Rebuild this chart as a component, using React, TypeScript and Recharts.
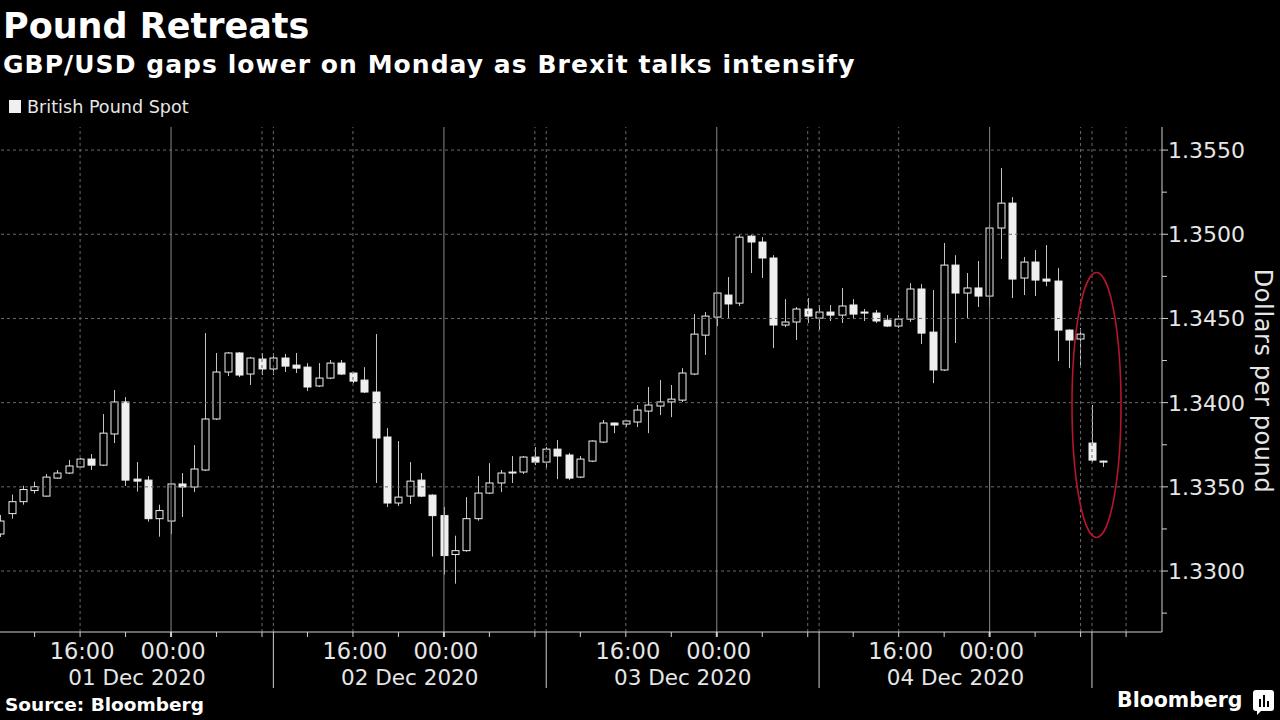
import { ComposedChart, Bar, XAxis, YAxis, ReferenceLine, ReferenceDot } from 'recharts';

if (typeof document !== 'undefined') {
  document.body.style.margin = '0';
  document.body.style.background = '#000';
}

// hourly candles, index 0 = first bar of 01 Dec session
const OPEN = [
  1.3322, 1.33341, 1.33412, 1.33478, 1.33445, 1.33552, 1.33582, 1.33618, 1.33665, 1.33629,
  1.33814, 1.34004, 1.33546, 1.3354, 1.33311, 1.33297, 1.33517, 1.33499, 1.336, 1.33903,
  1.34182, 1.34295, 1.3417, 1.34259, 1.342, 1.34265, 1.34223, 1.34211, 1.34099, 1.34146,
  1.34235, 1.34176, 1.34134, 1.34063, 1.33796, 1.33404, 1.33445, 1.3354, 1.33451, 1.33329,
  1.33098, 1.33121, 1.33311, 1.33463, 1.33523, 1.33582, 1.33588, 1.33677, 1.33647, 1.33724,
  1.33689, 1.33558, 1.33653, 1.33766, 1.33879, 1.33873, 1.33885, 1.3395, 1.3398, 1.34004,
  1.34015, 1.3417, 1.34401, 1.34508, 1.34639, 1.34591, 1.34989, 1.34954, 1.34859, 1.34461,
  1.34479, 1.34556, 1.34502, 1.34538, 1.3452, 1.3458, 1.34538, 1.34532, 1.3449, 1.34455,
  1.34496, 1.34675, 1.34419, 1.34194, 1.34817, 1.34651, 1.34681, 1.34633, 1.35037, 1.35185,
  1.3474, 1.34835, 1.34734, 1.34722, 1.34431, 1.34378, 1.3376, 1.33653,
];
const HIGH = [
  1.33333, 1.33454, 1.33507, 1.33531, 1.33576, 1.336, 1.33659, 1.33671, 1.33695, 1.33932,
  1.34075, 1.34033, 1.33647, 1.33564, 1.33394, 1.3352, 1.33582, 1.33748, 1.34413, 1.34295,
  1.343, 1.343, 1.34271, 1.34295, 1.34295, 1.34289, 1.34295, 1.34235, 1.34235, 1.34253,
  1.34253, 1.34182, 1.34211, 1.34407, 1.33849, 1.33772, 1.33647, 1.33582, 1.33455, 1.3338,
  1.3321, 1.33439, 1.33564, 1.33641, 1.336, 1.33683, 1.33683, 1.33736, 1.33736, 1.33778,
  1.33701, 1.33683, 1.33776, 1.33897, 1.33882, 1.33895, 1.33986, 1.34093, 1.34134, 1.34105,
  1.34205, 1.34526, 1.34538, 1.34655, 1.34746, 1.34995, 1.34995, 1.34983, 1.34876, 1.34615,
  1.34568, 1.34621, 1.3458, 1.3458, 1.34681, 1.34615, 1.34556, 1.3455, 1.3452, 1.3452,
  1.3471, 1.34704, 1.34669, 1.34948, 1.34876, 1.3477, 1.34841, 1.35055, 1.35393, 1.35221,
  1.34865, 1.34906, 1.34936, 1.34799, 1.34435, 1.34443, 1.33986, 1.33656,
];
const LOW = [
  1.33202, 1.33311, 1.33394, 1.3346, 1.33443, 1.33548, 1.33576, 1.33612, 1.336, 1.33624,
  1.3376, 1.33505, 1.33472, 1.33293, 1.33204, 1.3322, 1.33321, 1.33469, 1.33594, 1.33897,
  1.34158, 1.34152, 1.34105, 1.34164, 1.34164, 1.34182, 1.34176, 1.34069, 1.34093, 1.3414,
  1.34164, 1.34116, 1.34057, 1.33523, 1.3338, 1.33386, 1.33398, 1.33439, 1.33086, 1.32979,
  1.32925, 1.33115, 1.33299, 1.33457, 1.33469, 1.33523, 1.33576, 1.33629, 1.33612, 1.33546,
  1.3354, 1.33552, 1.33647, 1.3376, 1.33819, 1.33855, 1.33855, 1.33819, 1.33926, 1.33914,
  1.34004, 1.34164, 1.34283, 1.34455, 1.34502, 1.34574, 1.3477, 1.3474, 1.34324, 1.34449,
  1.34372, 1.34473, 1.34431, 1.34485, 1.34473, 1.34496, 1.34485, 1.34473, 1.34449, 1.34443,
  1.34479, 1.34348, 1.34116, 1.34188, 1.34354, 1.34502, 1.34568, 1.34568, 1.34853, 1.34621,
  1.34639, 1.34633, 1.34692, 1.34247, 1.34205, 1.34211, 1.33647, 1.33618,
];
const CLOSE = [
  1.33297, 1.33412, 1.33484, 1.33501, 1.33558, 1.33582, 1.33624, 1.33665, 1.33629, 1.33819,
  1.34004, 1.3354, 1.33534, 1.33311, 1.33359, 1.33517, 1.33499, 1.33606, 1.33903, 1.34182,
  1.34295, 1.34164, 1.34265, 1.342, 1.34265, 1.34217, 1.34205, 1.34093, 1.34146, 1.34235,
  1.3417, 1.34128, 1.34063, 1.3379, 1.33404, 1.33439, 1.33534, 1.33445, 1.33329, 1.33092,
  1.33121, 1.33311, 1.33463, 1.33523, 1.33582, 1.33588, 1.33677, 1.33647, 1.33724, 1.33683,
  1.33552, 1.33665, 1.33772, 1.33879, 1.33867, 1.33891, 1.33956, 1.33986, 1.34004, 1.34021,
  1.34176, 1.34407, 1.34514, 1.34651, 1.34586, 1.34983, 1.34954, 1.34859, 1.34461, 1.34479,
  1.34556, 1.34514, 1.34538, 1.3452, 1.34574, 1.34526, 1.34532, 1.34485, 1.34455, 1.34496,
  1.34675, 1.34413, 1.34194, 1.34817, 1.34651, 1.34681, 1.34633, 1.35037, 1.35185, 1.34734,
  1.34835, 1.34728, 1.34722, 1.34431, 1.34372, 1.34407, 1.33659, 1.3365,
];

const DATE_LABELS = ['01 Dec 2020', '02 Dec 2020', '03 Dec 2020', '04 Dec 2020'];
const DATE_POS = [12, 36, 60, 84];
const DAY_BREAKS = [24, 48, 72, 96];
const HOUR_LABELS: Record<number, string> = { 7: '16:00', 15: '00:00' };
const MINOR_X = Array.from({ length: 25 }, (_, i) => 3 + i * 4);
const DASHED_X = [7, 23, 24, 31, 47, 48, 55, 71, 72, 79, 95, 96, 99];
const SOLID_X = [15, 39, 63, 87];
const PRICE_TICKS = [1.33, 1.335, 1.34, 1.345, 1.35, 1.355];
const PRICE_MINOR = [1.3275, 1.3325, 1.3375, 1.3425, 1.3475, 1.3525];

const data = OPEN.map((o, k) => ({ k, open: o, high: HIGH[k], low: LOW[k], close: CLOSE[k] }));

const FONT = '"DejaVu Sans", sans-serif';
const TXT = '#e6e6e6';

function Candle(props: any) {
  const { x, y, width, height, payload } = props;
  if (x == null || y == null) return null;
  const top = Math.min(y, y + height);
  const h = Math.abs(height);
  const { open, high, low, close } = payload;
  const py = (p: number) => top + ((high - p) / (high - low)) * h;
  const cx = Math.round(x + width / 2) + 0.5;
  const up = close >= open;
  const bTop = py(Math.max(open, close));
  const bBot = py(Math.min(open, close));
  const bh = Math.max(bBot - bTop, 1);
  return (
    <g>
      <line x1={cx} x2={cx} y1={top} y2={top + h} stroke="#c4c4c4" strokeWidth={1} />
      <rect
        x={cx - 3.5}
        y={bTop}
        width={7}
        height={bh}
        fill={up ? '#000' : '#efefef'}
        stroke="#efefef"
        strokeWidth={1}
      />
    </g>
  );
}

function TimeTick(props: any) {
  const { x, y, payload } = props;
  const v = payload.value;
  const h = v % 24;
  const els: any[] = [];
  if (v % 4 === 3) {
    els.push(<line key="t" x1={x} x2={x} y1={y} y2={y + 5} stroke="#cfcfcf" strokeWidth={h === 15 ? 2 : 1} />);
  }
  if (HOUR_LABELS[h] && v < 96) {
    els.push(
      <text key="h" x={x + 2} y={y + 27} textAnchor="middle" fill={TXT} fontSize={22.5} fontFamily={FONT}>
        {HOUR_LABELS[h]}
      </text>
    );
  }
  if (DAY_BREAKS.includes(v)) {
    els.push(<line key="d" x1={x} x2={x} y1={y} y2={y + 56} stroke="#cfcfcf" strokeWidth={1} />);
  }
  const di = DATE_POS.indexOf(v);
  if (di >= 0) {
    els.push(
      <text key="l" x={x} y={y + 53} textAnchor="middle" fill={TXT} fontSize={21.5} fontFamily={FONT}>
        {DATE_LABELS[di]}
      </text>
    );
  }
  return <g>{els}</g>;
}

function PriceTick(props: any) {
  const { x, y, payload } = props;
  const major = Math.round(payload.value * 10000) % 50 === 0;
  return (
    <g>
      <line x1={x} x2={x + (major ? 6 : 5)} y1={y} y2={y} stroke="#cfcfcf" strokeWidth={1} />
      {major && (
        <text x={x + 6} y={y} dy="0.36em" fill={TXT} fontSize={22} fontFamily={FONT}>
          {payload.value.toFixed(4)}
        </text>
      )}
    </g>
  );
}

export default function App() {
  return (
    <div style={{ position: 'relative', width: 1280, height: 720, background: '#000', overflow: 'hidden' }}>
      <div style={{ position: 'absolute', left: 3, top: 6, color: '#fff', fontFamily: FONT, fontWeight: 700, fontSize: 35 }}>
        Pound Retreats
      </div>
      <div
        style={{
          position: 'absolute',
          left: 3,
          top: 50,
          color: '#fff',
          fontFamily: FONT,
          fontWeight: 700,
          fontSize: 25,
          letterSpacing: 1.05,
          whiteSpace: 'nowrap',
        }}
      >
        GBP/USD gaps lower on Monday as Brexit talks intensify
      </div>
      <div style={{ position: 'absolute', left: 9, top: 100, width: 12, height: 13, background: '#f0f0f0' }} />
      <div style={{ position: 'absolute', left: 27, top: 97, color: TXT, fontFamily: FONT, fontSize: 17.6 }}>
        British Pound Spot
      </div>

      <div style={{ position: 'absolute', left: 0, top: 0 }}>
        <ComposedChart width={1280} height={720} data={data} margin={{ top: 127, right: 0, bottom: 0, left: 0 }}>
          {PRICE_TICKS.map((p) => (
            <ReferenceLine key={'h' + p} y={p} stroke="#6a6a6a" strokeDasharray="3 3" />
          ))}
          {DASHED_X.map((k) => (
            <ReferenceLine key={'d' + k} x={k} stroke="#6a6a6a" strokeDasharray="3 3" />
          ))}
          {SOLID_X.map((k) => (
            <ReferenceLine key={'s' + k} x={k} stroke="#8a8a8a" />
          ))}
          <XAxis
            type="number"
            dataKey="k"
            domain={[-0.044, 102.16]}
            allowDataOverflow
            ticks={[...MINOR_X, ...DAY_BREAKS, ...DATE_POS].sort((a, b) => a - b)}
            interval={0}
            tickLine={false}
            tickSize={0}
            tickMargin={0}
            tick={(p: any) => <TimeTick {...p} />}
            axisLine={{ stroke: '#d0d0d0' }}
            height={88}
          />
          <YAxis
            orientation="right"
            type="number"
            domain={[1.32638, 1.35637]}
            allowDataOverflow
            ticks={[...PRICE_TICKS, ...PRICE_MINOR].sort((a, b) => a - b)}
            interval={0}
            tickLine={false}
            tickSize={0}
            tickMargin={0}
            tick={(p: any) => <PriceTick {...p} />}
            axisLine={{ stroke: '#d0d0d0' }}
            width={118}
          />
          <Bar
            dataKey={(d: any) => [d.low, d.high]}
            barSize={7}
            shape={(p: any) => <Candle {...p} />}
            isAnimationActive={false}
          />
          <ReferenceDot
            x={96.4}
            y={1.33986}
            shape={(p: any) => (
              <ellipse cx={p.cx} cy={p.cy} rx={24.5} ry={132.5} fill="none" stroke="#b5152d" strokeWidth={1.6} />
            )}
          />
        </ComposedChart>
      </div>

      <div
        style={{
          position: 'absolute',
          left: 1263,
          top: 381,
          transform: 'translate(-50%, -50%) rotate(90deg)',
          color: TXT,
          fontFamily: FONT,
          fontSize: 24,
          letterSpacing: 0.6,
          whiteSpace: 'nowrap',
        }}
      >
        Dollars per pound
      </div>
      <div style={{ position: 'absolute', left: 5, top: 694, color: '#fff', fontFamily: FONT, fontWeight: 700, fontSize: 18.5 }}>
        Source: Bloomberg
      </div>
      <div style={{ position: 'absolute', left: 1117, top: 688, color: '#fff', fontFamily: FONT, fontWeight: 700, fontSize: 20.5 }}>
        Bloomberg
      </div>
      <svg style={{ position: 'absolute', left: 1253, top: 690 }} width={21} height={25}>
        <rect x={0} y={0} width={21} height={21} rx={3} fill="#fff" />
        <path d="M4 21 L8 21 L4 25 Z" fill="#fff" />
        <rect x={6} y={9} width={2} height={8} fill="#000" />
        <rect x={10} y={5} width={2} height={12} fill="#000" />
        <rect x={14} y={11} width={2} height={6} fill="#000" />
      </svg>
    </div>
  );
}
